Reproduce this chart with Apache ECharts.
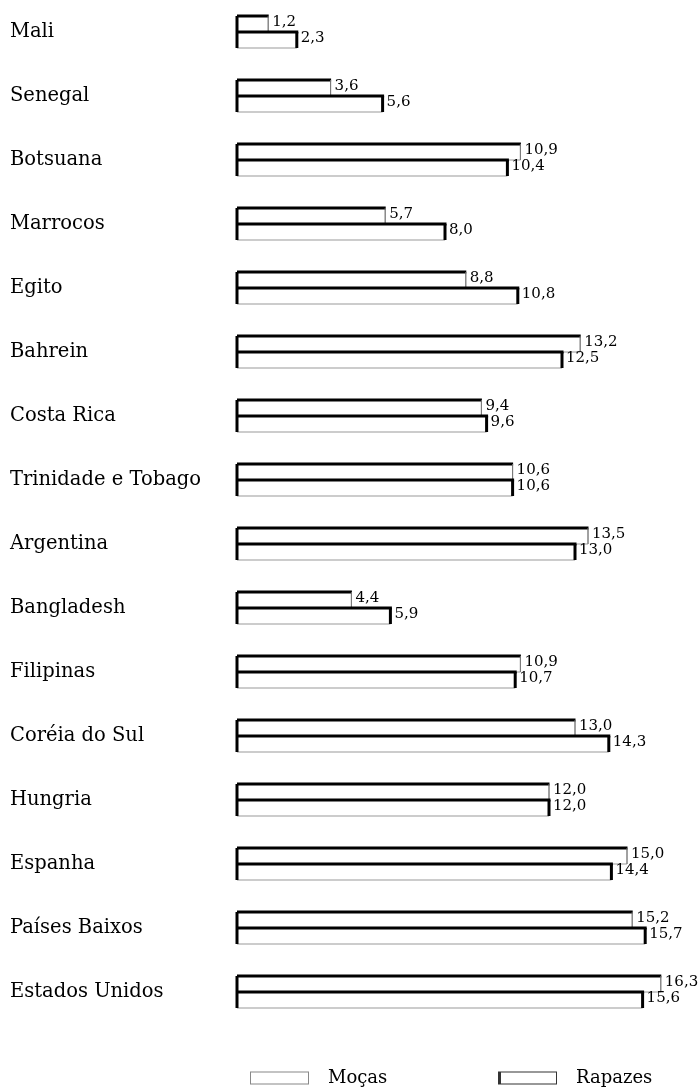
<!DOCTYPE html>
<html>
<head>
<meta charset="utf-8">
<script src="https://cdn.jsdelivr.net/npm/echarts@6/dist/echarts.min.js"></script>
<style>
  html, body { margin: 0; padding: 0; background: #fff; }
  #chart { width: 700px; height: 1087px; }
</style>
</head>
<body>
<div id="chart"></div>
<script>
const countries = ['Mali', 'Senegal', 'Botsuana', 'Marrocos', 'Egito', 'Bahrein', 'Costa Rica',
  'Trinidade e Tobago', 'Argentina', 'Bangladesh', 'Filipinas', 'Coréia do Sul', 'Hungria',
  'Espanha', 'Países Baixos', 'Estados Unidos']
const mocas = [1.2, 3.6, 10.9, 5.7, 8.8, 13.2, 9.4, 10.6, 13.5, 4.4, 10.9, 13.0, 12.0, 15.0, 15.2, 16.3]
const rapazes = [2.3, 5.6, 10.4, 8.0, 10.8, 12.5, 9.6, 10.6, 13.0, 5.9, 10.7, 14.3, 12.0, 14.4, 15.7, 15.6]

const serif = 'DejaVu Serif'
const fmt = v => v.toFixed(1).replace('.', ',')

// top bar = Moças, bottom bar = Rapazes; thick black top/left edges, thin grey bottom
function makeRender(offset, thickRight) {
  return function (params, api) {
    const idx = api.value(1)
    const val = api.value(0)
    const start = api.coord([0, idx])
    const end = api.coord([val, idx])
    const band = api.size([0, 1])[1]
    const h = band * 0.25
    const x0 = start[0]
    const x1 = end[0]
    const y0 = start[1] + offset * h
    const y1 = y0 + h
    return {
      type: 'group',
      children: [
        { type: 'rect', shape: { x: x0, y: y0, width: x1 - x0, height: h },
          style: { fill: '#fff', stroke: '#999', lineWidth: 1 } },
        { type: 'line', shape: { x1: x0, y1: y0, x2: x1 + (thickRight ? 1.5 : 0.5), y2: y0 },
          style: { stroke: '#000', lineWidth: 3 } },
        { type: 'line', shape: { x1: x0, y1: y0, x2: x0, y2: y1 },
          style: { stroke: '#000', lineWidth: 3 } },
        thickRight
          ? { type: 'line', shape: { x1: x1, y1: y0, x2: x1, y2: y1 },
              style: { stroke: '#000', lineWidth: 3 } }
          : { type: 'line', shape: { x1: x1, y1: y0, x2: x1, y2: y1 },
              style: { stroke: '#777', lineWidth: 1 } },
        { type: 'text', x: x1 + 4, y: y0 + h / 2 - 2,
          style: { text: fmt(val), font: '15px "' + serif + '"', fill: '#000',
            verticalAlign: 'middle', align: 'left' } }
      ]
    }
  }
}

const chart = echarts.init(document.getElementById('chart'))
chart.setOption({
  animation: false,
  grid: { left: 237, top: 0, width: 442, height: 1024 },
  xAxis: { type: 'value', min: 0, max: 17, show: false },
  yAxis: {
    type: 'category',
    data: countries,
    inverse: true,
    axisLine: { show: false },
    axisTick: { show: false },
    axisLabel: { align: 'left', margin: 227, fontFamily: serif, fontSize: 19.5, color: '#000' }
  },
  legend: [
    { data: ['Moças'], left: 250, top: 1069, padding: 0, itemWidth: 59, itemHeight: 13,
      icon: 'path://M0,0H59V13H0Z M1,1V12H58V1Z',
      textStyle: { fontFamily: serif, fontSize: 18, color: '#000', padding: [0, 0, 0, 14] } },
    { data: ['Rapazes'], left: 498, top: 1069, padding: 0, itemWidth: 59, itemHeight: 13,
      icon: 'path://M0,0H59V13H0Z M3,1V12H58V1Z',
      textStyle: { fontFamily: serif, fontSize: 18, color: '#000', padding: [0, 0, 0, 14] } }
  ],
  series: [
    { name: 'Moças', type: 'custom', itemStyle: { color: '#888' },
      encode: { x: 0, y: 1 },
      data: mocas.map((v, i) => [v, i]),
      renderItem: makeRender(-1, false) },
    { name: 'Rapazes', type: 'custom', itemStyle: { color: '#333' },
      encode: { x: 0, y: 1 },
      data: rapazes.map((v, i) => [v, i]),
      renderItem: makeRender(0, true) }
  ]
})
</script>
</body>
</html>
